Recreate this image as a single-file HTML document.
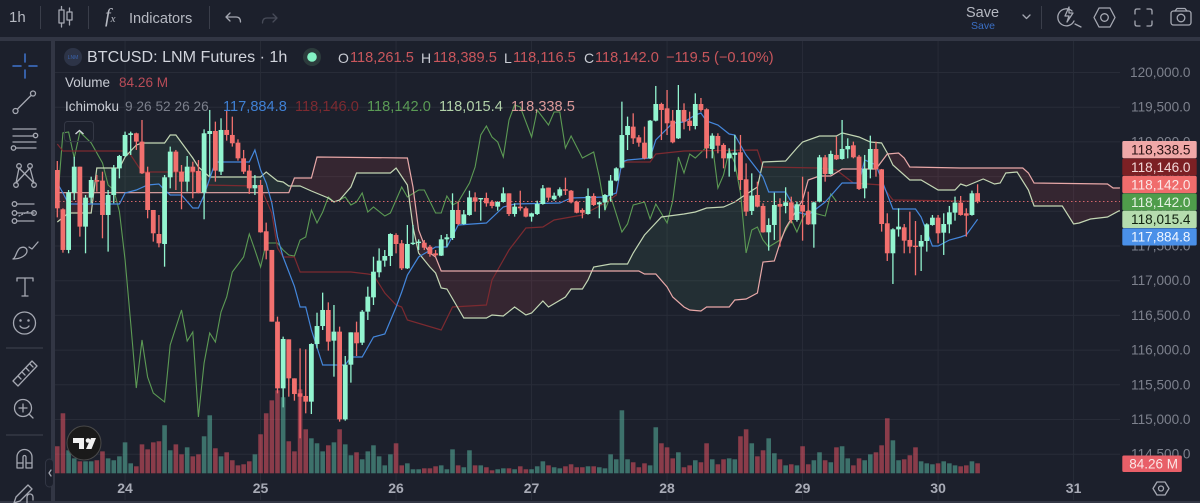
<!DOCTYPE html>
<html lang="en">
<head>
<meta charset="utf-8">
<title>BTCUSD chart</title>
<style>
html,body{margin:0;padding:0;background:#1c202c;}
#page{position:relative;width:1200px;height:503px;overflow:hidden;background:#1c202c;font-family:"Liberation Sans",sans-serif;color:#c9ccd4;}
#page svg{position:absolute;left:0;top:0;}
.t{position:absolute;white-space:nowrap;line-height:18px;font-size:14px;}
.band{position:absolute;background:#323644;}
.sep{position:absolute;background:#3a3e4a;}
.ic{fill:none;stroke:#a5a8b2;stroke-width:1.3;stroke-linecap:round;stroke-linejoin:round;}
.r{color:#c9565c;}
</style>
</head>
<body>
<div id="page">

<svg id="chart" width="1200" height="503" viewBox="0 0 1200 503"></svg>

<div class="band" style="left:0;top:37px;width:1200px;height:3.5px"></div>
<div class="band" style="left:51px;top:40px;width:3.5px;height:463px"></div>
<div class="band" style="left:0;top:500.5px;width:1200px;height:2.5px"></div>

<div class="t" style="left:9px;top:9px;font-size:15px;color:#b6b9c2">1h</div>
<div class="sep" style="left:40px;top:6px;width:1px;height:23px"></div>
<div class="sep" style="left:88px;top:6px;width:1px;height:23px"></div>
<div class="sep" style="left:209px;top:6px;width:1px;height:23px"></div>
<div class="sep" style="left:1041px;top:6px;width:1px;height:23px"></div>
<div class="t" style="left:105px;top:7px;font-family:'Liberation Serif',serif;font-style:italic;font-size:20px;color:#b6b9c2">f<span style="font-size:11px">x</span></div>
<div class="t" style="left:129px;top:9.5px;font-size:14.6px;color:#b6b9c2">Indicators</div>
<div class="t" style="left:966px;top:4px;font-size:14.5px;color:#b6b9c2">Save</div>
<div class="t" style="left:971px;top:17px;font-size:10.5px;color:#3b6fc4">Save</div>

<svg width="1200" height="503" viewBox="0 0 1200 503" style="pointer-events:none">
  <g class="ic"><rect x="59" y="10" width="5" height="13"/><path d="M61.500 6.500V10M61.500 23V27"/><rect x="67" y="12" width="5" height="8"/><path d="M69.500 8V12M69.500 20V25"/></g>
  <g class="ic"><path d="M226 17h10c4 0 4.500 3 4.500 5M226 17l4-4M226 17l4 4"/></g>
  <g class="ic" style="stroke:#474b58"><path d="M277 18h-10c-4 0-4.500 3-4.500 5M277 18l-4-4M277 18l-4 4"/></g>
  <g class="ic"><path d="M1023 15l3.500 3.500 3.500-3.500"/></g>
  <g class="ic"><path d="M1072 11a8.500 8.500 0 1 0 2 10M1075 24l6 3"/><path d="M1069 7l-4 9h4l-2 6 6-9h-4z"/></g>
  <g class="ic"><path d="M1099 8h11l5 9.500-5 9.500h-11l-5-9.500z"/><circle cx="1104.500" cy="17.500" r="3.800"/></g>
  <g class="ic"><path d="M1135 14v-3q0-2 2-2h3M1147 9h3q2 0 2 2v3M1152 21v3q0 2-2 2h-3M1140 26h-3q-2 0-2-2v-3"/></g>
  <g class="ic"><rect x="1171" y="11" width="20" height="14" rx="2.500"/><path d="M1175 11l2-2.500h8l2 2.500"/><circle cx="1181" cy="18" r="3.800"/></g>

  <g class="ic" style="stroke:#3f74cf;stroke-width:1.500"><path d="M25 54v8M25 70v8M13 66h8M29 66h8"/></g>
  <g class="ic"><circle cx="15.500" cy="111" r="2.500"/><circle cx="33" cy="93.500" r="2.500"/><path d="M17.500 109l13.500-13.500"/></g>
  <g class="ic"><path d="M13 129h23M13 136h21M13 142h23M16 148h20"/><circle cx="35.500" cy="135.500" r="2.200"/><circle cx="13.500" cy="148" r="2.200"/></g>
  <g class="ic"><circle cx="19" cy="166" r="2.300"/><circle cx="30" cy="166" r="2.300"/><circle cx="16" cy="185" r="2.300"/><circle cx="34" cy="185" r="2.300"/><path d="M19 168l-3 15M19 168l15 15M30 168l-14 15M30 168l4 15"/></g>
  <g class="ic"><path d="M17 204h17M17 213h17M17 221h17"/><circle cx="14.500" cy="204" r="2.300"/><circle cx="14.500" cy="213" r="2.300"/><circle cx="14.500" cy="221" r="2.300"/><circle cx="34" cy="213" r="2.300"/><path d="M19 216l10-5" stroke-dasharray="1 2"/></g>
  <g class="ic"><path d="M13 259c3-1 3-8 7-11 4-2 7 0 7 3 0 4-6 8-14 8zM29 247l3 2 6-7"/></g>
  <g class="ic"><path d="M17 281v-3h16v3M25 278v18M22 296h6"/></g>
  <g class="ic"><circle cx="24.500" cy="323" r="11"/><circle cx="20.500" cy="320.500" r=".6"/><circle cx="28.500" cy="320.500" r=".6"/><path d="M20 326c2 3 7 3 9 0"/></g>
  <path d="M6 348h37" stroke="#3a3e4a" stroke-width="1.300"/>
  <g class="ic"><path d="M13 381l19-20 5 5-19 20zM18 376l3 3M22 372l3 3M26 368l3 3M30 364l3 3"/></g>
  <g class="ic"><circle cx="23" cy="408" r="8.500"/><path d="M19 408h8M23 404v8M29 414l4 4"/></g>
  <path d="M6 435h37" stroke="#3a3e4a" stroke-width="1.300"/>
  <g class="ic"><path d="M17 468v-11a7.500 7.500 0 0 1 15 0v11h-6v-11a1.500 1.500 0 0 0-3 0v11zM17 463h6M26 463h6"/></g>
  <g class="ic"><path d="M14 503l2-6 12-12 4 4-12 12zM27 497v6M27 497a3 3 0 0 1 6 0v3"/></g>
  <g><rect x="45.500" y="459" width="8" height="28" rx="4" fill="#1c202c" stroke="#323644"/><path class="ic" d="M51 470l-2 3 2 3"/></g>

  <g><circle cx="73" cy="57" r="9" fill="#2d3447"/><text x="73" y="59" font-size="5" text-anchor="middle" fill="#3a63ad" font-family="Liberation Sans">LNM</text></g>
  <g><circle cx="312" cy="57" r="9" fill="#2c3b3c"/><circle cx="312" cy="57" r="4.800" fill="#83f2c4"/></g>
  <g><rect x="64.500" y="121.500" width="29" height="20" rx="3" fill="none" stroke="#343845"/><path d="M75.500 134l4-3.500 4 3.500" fill="none" stroke="#d1d4dc" stroke-width="1.400"/></g>
  <g><circle cx="84" cy="443" r="17" fill="#1a1a1a" stroke="#4a4a4a"/><path d="M73 438h11v11h-5v-6h-6z" fill="#f2f2f2"/><circle cx="88" cy="440.500" r="2.300" fill="#f2f2f2"/><path d="M91 438h5l-4.500 11h-5.500z" fill="#f2f2f2"/></g>
  <g class="ic"><path d="M1157 482h8l4 6.500-4 6.500h-8l-4-6.500z"/><circle cx="1161" cy="488.500" r="2.500"/></g>
</svg>

<div class="t" style="left:87px;top:48px;font-size:16.1px;color:#d1d4dc">BTCUSD: LNM Futures · 1h</div>
<div class="t" style="left:338px;top:49px;color:#c9ccd4">O</div>
<div class="t r" style="left:350px;top:49px;font-size:14.6px">118,261.5</div>
<div class="t" style="left:421px;top:49px;color:#c9ccd4">H</div>
<div class="t r" style="left:433px;top:49px;font-size:14.6px">118,389.5</div>
<div class="t" style="left:504px;top:49px;color:#c9ccd4">L</div>
<div class="t r" style="left:513px;top:49px;font-size:14.6px">118,116.5</div>
<div class="t" style="left:584px;top:49px;color:#c9ccd4">C</div>
<div class="t r" style="left:595px;top:49px;font-size:14.6px">118,142.0</div>
<div class="t r" style="left:666px;top:49px;font-size:14.6px">−119.5 (−0.10%)</div>

<div class="t" style="left:65px;top:74px;font-size:13.500px;color:#c9ccd4">Volume</div>
<div class="t" style="left:119px;top:74px;font-size:13.6px;color:#b84c58">84.26 M</div>

<div class="t" style="left:65px;top:98px;font-size:13.500px;color:#c9ccd4">Ichimoku</div>
<div class="t" style="left:125px;top:98px;font-size:13.700px;color:#7b7f8b">9 26 52 26 26</div>
<div class="t" style="left:223px;top:98px;font-size:14.6px;color:#3f80d4">117,884.8</div>
<div class="t" style="left:295px;top:98px;font-size:14.6px;color:#7d2a30">118,146.0</div>
<div class="t" style="left:367px;top:98px;font-size:14.6px;color:#5a9a55">118,142.0</div>
<div class="t" style="left:439px;top:98px;font-size:14.6px;color:#b1d1a9">118,015.4</div>
<div class="t" style="left:511px;top:98px;font-size:14.6px;color:#dc9a9a">118,338.5</div>
</div>

<script>
const opens=[118595,118029,117443,118269,118643,117779,118197,118451,118442,117947,118235,118619,118797,119100,119124,119004,118562,118019,117673,117529,118490,118860,118571,118427,118643,118581,118269,119114,119157,118571,119172,119100,118989,118763,118586,118331,118379,117712,117443,116410,115449,116155,115593,115377,115339,115257,116088,116347,116578,116136,116266,115002,115790,116256,116107,116554,116760,117121,117289,117356,117659,117539,117178,117529,117548,117548,117490,117394,117361,117596,117615,118019,117817,117947,118201,118182,118192,118139,118067,118134,118259,117961,118067,118043,117923,117961,118105,118341,118173,118225,118317,118297,118139,118019,117961,118221,118100,118129,118225,118442,118629,119099,119220,119066,118989,118763,119306,119546,119484,119306,119051,119460,119306,119229,119546,119470,118898,119085,118956,118763,118812,118850,118461,118005,118235,118077,117697,117803,118105,118077,118129,117875,118091,118005,117812,118139,118778,118538,118812,118754,118893,118951,118788,118331,118605,118898,118605,117827,117395,117740,117769,117587,117505,117491,117572,117803,117908,117692,117812,117981,118125,117971,117947,118261.5];
const highs=[118725,118043,118307,118787,118643,118235,118499,118523,118571,118307,118667,118812,119148,119148,119133,119316,118643,118019,117947,118523,118932,118884,118667,118797,118715,118739,119181,119460,119292,119340,119460,119364,119037,118884,118667,118523,118451,117837,117443,116482,116194,116155,115593,116025,116011,116098,116539,116828,116688,116650,116338,115915,116256,116410,116578,116914,117346,117466,117442,117683,117683,117587,117803,117803,117596,117587,117515,117442,117659,117673,118259,118139,118019,118297,118273,118192,118269,118163,118144,118345,118259,118115,118297,118067,117980,118153,118379,118341,118269,118345,118485,118307,118153,118043,118331,118259,118139,118249,118523,118634,119580,119364,119412,119099,119220,119316,119806,119565,119748,119460,119820,119556,119436,119700,119633,119484,119124,119124,118980,118908,119100,119100,118691,118547,118427,118115,117899,118269,118187,118346,118211,118139,118499,118283,118139,118812,118812,118874,119076,119316,119052,119004,118812,118812,119090,119004,118610,117971,117755,118043,117817,117995,117860,117659,117827,117947,117947,117971,118077,118211,118221,118043,118298,118389.5];
const lows=[117913,117404,117395,118163,117635,117395,118115,118283,117611,117419,118115,118475,118788,118812,118884,118538,117899,117563,117481,117202,118331,118307,118029,118283,118187,118259,117885,118509,118427,118523,119018,118932,118730,118538,118250,118235,117692,117308,116410,115377,115175,115329,115271,114729,115089,115079,116025,116290,115992,115617,114969,114983,115531,115915,116073,116434,116650,117049,117202,117212,117394,117154,117169,117515,117442,117442,117346,117346,117356,117490,117587,117803,117808,117937,117995,117865,118067,118043,118009,118125,117932,117923,118009,117913,117851,117947,118096,118153,118153,118201,118235,118115,117971,117899,117952,118077,117899,118019,118139,118432,118619,118883,118970,118931,118749,118754,119296,119027,119099,118980,119042,119181,119162,119181,119436,118763,118763,118836,118619,118499,118571,118307,117933,117947,118057,117692,117433,117587,117491,117971,117827,117851,117577,117803,117476,118129,118427,118528,118739,118744,118763,118763,118307,118187,118475,118499,117707,117284,116953,117635,117395,117395,117078,117140,117419,117793,117539,117371,117683,117865,117937,117635,117937,118116.5];
const closes=[118043,117443,118274,118643,117779,118197,118451,118427,117947,118235,118619,118797,119100,119124,119004,118547,118019,117683,117539,118490,118860,118571,118427,118643,118571,118269,119124,119157,118586,119172,119100,118980,118763,118571,118331,118379,117697,117433,116410,115449,116160,115593,115367,115329,115257,116088,116347,116578,116122,116266,115002,115790,116256,116098,116554,116770,117130,117289,117356,117673,117529,117178,117529,117548,117563,117476,117385,117366,117596,117625,118019,117817,117956,118201,118139,118192,118115,118077,118134,118259,117961,118067,118043,117923,117971,118105,118331,118197,118225,118317,118302,118129,117980,117980,118221,118091,118129,118235,118442,118619,119099,119229,119051,118989,118763,119306,119546,119460,119268,118994,119460,119292,119229,119546,119460,118908,119090,118946,118763,118836,118845,118451,117995,118226,118067,117697,117803,118091,118067,118129,117875,118101,117995,117812,118129,118778,118538,118826,118749,118898,118941,118778,118322,118610,118898,118605,117817,117395,117740,117779,117577,117491,117491,117572,117812,117908,117683,117817,117985,118125,117947,117937,118259,118142];
const volumes=[228,506,194,126,101,101,101,110,185,126,110,143,261,84,59,244,202,261,270,405,194,244,160,219,143,160,312,489,211,143,177,110,67,76,101,160,329,506,615,700,641,270,185,708,371,295,253,185,236,261,371,244,152,177,118,185,236,143,67,160,253,67,84,34,34,42,42,59,67,34,202,67,51,194,67,67,51,25,34,42,42,34,59,34,34,59,101,67,51,42,59,76,51,51,59,59,51,42,160,118,531,118,93,51,84,67,388,253,219,126,177,51,67,110,93,253,118,76,118,126,118,312,371,253,143,194,295,169,118,67,76,67,228,76,110,177,110,93,219,228,126,67,126,110,160,177,236,464,278,110,118,152,219,101,84,76,84,101,84,67,59,67,101,84.26];

const conversionLine=[[0,118408],[1,118265],[2,118105],[11,118105],[12,118264],[14,118307],[16,118379],[18,118393],[19,118307],[20,118235],[22,118235],[24,118048],[25,118048],[26,118235],[28,118711],[34,118711],[35,118884],[36,118595],[37,118408],[38,118120],[39,117630],[40,117342],[42,116920],[43,116621],[44,116621],[45,116290],[47,115785],[51,115785],[52,115901],[54,115901],[56,116189],[58,116232],[60,116621],[61,116837],[62,117082],[64,117342],[67,117486],[69,117486],[71,117803],[76,117832],[79,118062],[81,118105],[89,118120],[91,118192],[97,118206],[99,118264],[100,118711],[101,118739],[105,118768],[106,119028],[109,119273],[111,119287],[113,119388],[114,119417],[115,119301],[117,119244],[119,119114],[120,119100],[122,118811],[125,118494],[126,118278],[129,118278],[131,117990],[133,117947],[136,118134],[139,118408],[142,118408],[143,118739],[145,118667],[148,118033],[152,118033],[153,117918],[155,117500],[156,117500],[158,117587],[160,117630],[161,117659],[163,117884.8]];
const baseLine=[[0,118970],[1,118869],[12,118869],[13,118811],[15,118567],[25,118567],[26,118379],[35,118365],[36,118350],[38,117976],[39,117472],[40,117342],[42,117342],[43,117125],[52,117125],[55,117097],[56,117082],[58,116823],[60,116650],[61,116621],[62,116434],[68,116290],[70,116621],[76,116650],[77,117010],[80,117443],[83,117760],[86,117774],[88,117875],[93,117947],[97,118120],[99,118235],[100,118711],[105,118711],[106,118826],[111,118869],[124,118884],[125,118638],[135,118624],[138,118595],[141,118408],[146,118379],[148,118163],[163,118146]];
const laggingLine=[[0,118091],[1,119129],[2,119143],[3,118768],[4,119143],[6,118984],[8,118696],[9,118379],[10,118307],[11,118000],[12,117298],[13,116391],[14,115454],[15,116146],[16,115612],[17,115382],[19,115252],[20,116074],[22,116578],[23,116131],[24,116261],[25,115036],[26,115814],[27,116246],[28,116117],[29,116549],[30,116765],[31,117125],[33,117342],[34,117673],[35,117443],[36,117197],[37,117543],[39,117543],[40,117443],[41,117370],[42,117356],[43,117587],[44,117630],[45,118019],[46,117832],[47,117990],[48,118206],[49,118134],[50,118163],[51,118206],[52,118091],[53,118134],[54,118264],[55,117990],[56,118062],[58,117932],[59,117976],[61,118350],[62,118206],[64,118307],[65,118307],[67,117976],[68,117976],[69,118221],[70,118091],[71,118134],[73,118408],[74,118638],[75,119100],[76,119229],[77,119071],[78,118999],[79,118783],[80,119316],[81,119532],[82,119503],[84,119071],[85,119460],[87,119244],[88,119431],[89,119431],[90,118912],[91,119085],[93,118768],[95,118855],[96,118494],[97,118019],[98,118221],[100,117702],[101,117817],[102,118091],[104,118134],[105,117889],[106,118105],[108,117832],[109,118149],[110,118783],[111,118552],[112,118826],[113,118768],[115,118927],[116,118984],[117,118336],[118,118523],[119,118884],[120,118696],[121,118264],[122,117399],[123,117731],[124,117774],[125,117587],[126,117486],[128,117587],[130,117875],[131,117702],[132,117904],[133,118019],[134,117976],[136,117932],[137,118250],[138,118142]];
const leadA=[[0,117846],[2,117976],[6,117976],[7,118624],[11,118624],[12,118783],[14,118955],[15,118984],[19,118984],[20,119100],[21,119100],[24,118768],[25,118638],[27,118494],[36,118494],[37,118566],[39,118437],[40,118422],[41,118365],[43,118365],[45,118293],[48,118192],[49,118134],[50,118163],[52,118350],[53,118552],[59,118552],[60,118624],[62,118379],[63,117774],[64,117399],[66,117197],[67,117111],[68,116895],[69,116880],[72,116463],[76,116463],[77,116506],[79,116491],[81,116621],[83,116506],[84,116535],[86,116708],[87,116621],[90,116765],[91,116880],[93,116880],[94,117010],[95,117197],[98,117241],[101,117241],[102,117399],[104,117658],[107,117918],[111,117961],[113,117990],[115,118048],[118,118062],[120,118134],[121,118192],[124,118350],[125,118711],[129,118725],[131,118912],[132,118999],[135,119085],[138,119085],[139,119129],[142,119071],[144,118999],[146,118984],[147,118840],[148,118667],[151,118451],[153,118451],[156,118307],[159,118307],[160,118394],[161,118365],[164,118466],[166,118394],[167,118408],[168,118552],[170,118566],[172,118307],[173,118076],[178,118076],[180,117817],[181,117832],[183,117889],[186,117918],[188,118005],[189,118015.4]];
const leadB=[[0,118268],[41,118268],[42,118480],[45,118480],[46,118783],[62,118768],[63,118350],[64,117731],[65,117515],[66,117399],[67,117342],[68,117140],[103,117140],[104,117097],[106,117097],[108,116909],[109,116765],[111,116621],[112,116578],[114,116563],[115,116621],[119,116621],[120,116722],[122,116736],[124,116823],[125,117270],[127,117284],[128,117543],[129,117760],[132,118163],[133,118451],[135,118509],[137,118509],[139,118610],[145,118610],[147,118826],[149,118840],[150,118768],[151,118638],[160,118624],[171,118624],[172,118552],[173,118408],[186,118394],[187,118336],[188,118336],[189,118338.5]];

const priceTicks=[120000,119500,119000,118500,118000,117500,117000,116500,116000,115500,115000,114500];
const dateLabels=['24','25','26','27','28','29','30','31'];
const dateBars=[12,36,60,84,108,132,156,180];
const lastClose=118142;
const tagValues=[118338.5,118146.0,118142.0,118142.0,118015.4,117884.8];
const lastVolumeLabel='84.26 M';

const SVG='http://www.w3.org/2000/svg';
const svg=document.getElementById('chart');
const left=55,right=1120,bottom=500;
function xOf(i){return 57.3+i*5.646;}
function yOf(p){return 72.5+(120000-p)*0.0694;}
function volY(v){return 473.3-v/8.43;}
function fmt(p){return p.toLocaleString('en-US',{minimumFractionDigits:1,maximumFractionDigits:1});}
function mk(tag,attrs,parent){
  const el=document.createElementNS(SVG,tag);
  for(const k in attrs){el.setAttribute(k,attrs[k]);}
  (parent||svg).appendChild(el);
  return el;
}
function valueAt(series,i){
  for(let n=0;n<series.length-1;n++){
    const a=series[n],b=series[n+1];
    if(i>=a[0]&&i<=b[0]){return a[1]+(b[1]-a[1])*(i-a[0])/(b[0]-a[0]);}
  }
  return series[series.length-1][1];
}

const defs=mk('defs',{});
const clip=mk('clipPath',{id:'plot'},defs);
mk('rect',{x:left,y:40,width:right-left,height:bottom-40},clip);

priceTicks.forEach(function(p){
  const g=mk('line',{x1:left,x2:right,y1:yOf(p),y2:yOf(p),stroke:'#282c38','stroke-width':1});
  
  
});
dateBars.forEach(function(b){
  const g=mk('line',{x1:xOf(b),x2:xOf(b),y1:40,y2:bottom,stroke:'#282c38','stroke-width':1});
  
  
});

const plot=mk('g',{'clip-path':'url(#plot)'});



let green='',red='';
function quad(x0,a0,b0,x1,a1,b1){return 'M'+x0+' '+a0+'L'+x1+' '+a1+'L'+x1+' '+b1+'L'+x0+' '+b0+'Z';}
for(let i=0;i<189;i++){
  const x0=xOf(i),x1=xOf(i+1);
  const a0=yOf(valueAt(leadA,i)),a1=yOf(valueAt(leadA,i+1));
  const b0=yOf(valueAt(leadB,i)),b1=yOf(valueAt(leadB,i+1));
  const d0=b0-a0,d1=b1-a1;
  if(d0*d1<0){
    const t=d0/(d0-d1),xm=x0+(x1-x0)*t,ym=a0+(a1-a0)*t;
    const s0=quad(x0,a0,b0,xm,ym,ym),s1=quad(xm,ym,ym,x1,a1,b1);
    if(d0>0){green+=s0;red+=s1;}else{red+=s0;green+=s1;}
  }else if(d0+d1>=0){green+=quad(x0,a0,b0,x1,a1,b1);}
  else{red+=quad(x0,a0,b0,x1,a1,b1);}
}
const cloudUp=mk('path',{d:green,fill:'rgba(110,200,130,.09)'},plot);


const cloudDown=mk('path',{d:red,fill:'rgba(240,80,90,.12)'},plot);



function pts(series){return series.map(function(s){return xOf(s[0]).toFixed(1)+','+yOf(s[1]).toFixed(1);}).join(' ');}
const laggingEl=mk('polyline',{points:pts(laggingLine),fill:'none',stroke:'#5c9a54','stroke-width':1.1},plot);


const baseEl=mk('polyline',{points:pts(baseLine),fill:'none',stroke:'#7c2a30','stroke-width':1.2},plot);


const leadAEl=mk('polyline',{points:pts(leadA),fill:'none',stroke:'#c3d6b4','stroke-width':1.2},plot);


const leadBEl=mk('polyline',{points:pts(leadB),fill:'none',stroke:'#e8a8a8','stroke-width':1.2},plot);


const convEl=mk('polyline',{points:pts(conversionLine),fill:'none',stroke:'#4487dc','stroke-width':1.2},plot);



const lastLine=mk('line',{x1:left,x2:right,y1:yOf(lastClose),y2:yOf(lastClose),stroke:'#d2666a','stroke-width':1,'stroke-dasharray':'1.5 2.5'},plot);



opens.forEach(function(o,i){
  const c=closes[i],up=c>=o,col=up?'#93f5d0':'#f2706e',x=xOf(i);
  const wick=mk('line',{x1:x,x2:x,y1:yOf(highs[i]),y2:yOf(lows[i]),stroke:col,'stroke-width':1.3},plot);
  
  
  const top=yOf(Math.max(o,c)),h=Math.max(1.4,Math.abs(yOf(o)-yOf(c)));
  const body=mk('rect',{x:x-2.4,y:top,width:4.8,height:h,fill:col},plot);
  
  
});

volumes.forEach(function(v,i){
  const up=closes[i]>=opens[i];
  const bar=mk('rect',{x:xOf(i)-2.3,y:volY(v),width:4.6,height:volY(0)-volY(v),fill:up?'rgba(92,188,164,.52)':'rgba(248,88,104,.5)'},plot);
  
  
});

priceTicks.forEach(function(p){
  const t=mk('text',{x:1190.5,y:yOf(p)+4.5,'text-anchor':'end','font-size':13.6,fill:'#7d818d','font-family':'Liberation Sans'});
  
  
  t.textContent=fmt(p);
});
dateBars.forEach(function(b,n){
  const t=mk('text',{x:xOf(b),y:493,'text-anchor':'middle','font-size':14,'font-weight':'bold',fill:'#a8abb6','font-family':'Liberation Sans'});
  
  
  t.textContent=dateLabels[n];
});

const tagFill=['#f0a8a8','#7c2024','#f06c6c','#4f9d4b','#b5dcae','#4a90e8'];
const tagText=['#2a1214','#f2d8d8','#fbe6e6','#e4f2e2','#10210f','#eef5ff'];
const tagNames=['lead-b-price-tag','base-line-price-tag','last-price-tag','lagging-span-price-tag','lead-a-price-tag','conversion-line-price-tag'];
tagValues.forEach(function(v,n){
  const y=141+n*17.45;
  const r=mk('rect',{x:1122.3,y:y,width:74.4,height:17.2,rx:1.5,fill:tagFill[n]});
  
  
  const t=mk('text',{x:1190.5,y:y+13.4,'text-anchor':'end','font-size':13.6,fill:tagText[n],'font-family':'Liberation Sans'});
  
  
  t.textContent=fmt(v);
});
const vTag=mk('rect',{x:1122.3,y:455.5,width:59.5,height:16.5,rx:1.5,fill:'#e85f68'});


const vText=mk('text',{x:1178,y:468.5,'text-anchor':'end','font-size':13.5,fill:'#fbe6e6','font-family':'Liberation Sans'});


vText.textContent=lastVolumeLabel;
</script>
</body>
</html>
